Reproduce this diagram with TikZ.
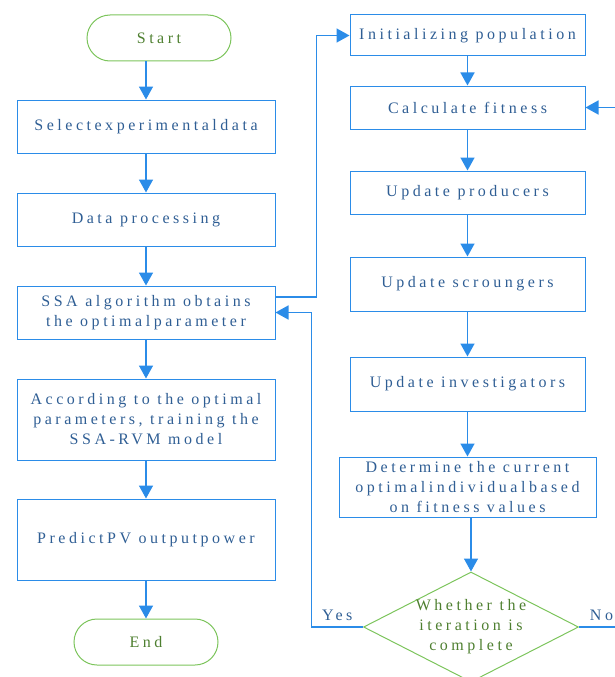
\documentclass[tikz,border=0pt]{standalone}
\usepackage{fontspec}
\setmainfont{Liberation Serif}[LetterSpace=22]
\usetikzlibrary{shapes.geometric, arrows.meta, positioning}
\definecolor{lineblue}{HTML}{2B8CE8}
\definecolor{txtblue}{HTML}{2F5E94}
\definecolor{termgreen}{HTML}{7CC45C}
\definecolor{txtgreen}{HTML}{4E7F30}

\begin{document}
\begin{tikzpicture}[
    x=1pt, y=-1pt,
    proc/.style={
      draw=lineblue,
      line width=1pt,
      align=center,
      text=txtblue,
      inner sep=1pt,
      font=\fontsize{16}{20}\selectfont
    },
    term/.style={
      draw=termgreen,
      line width=1pt,
      rounded corners=23pt,
      minimum width=144pt,
      minimum height=46pt,
      text=txtgreen,
      font=\fontsize{16}{20}\selectfont
    },
    decision/.style={
      draw=termgreen,
      line width=1pt,
      diamond,
      inner sep=0pt,
      minimum width=215pt,
      minimum height=110pt
    },
    flow/.style={
      draw=lineblue,
      line width=1.6pt,
      -{Triangle[length=13pt, width=14pt]}
    },
    lbl/.style={text=txtblue, font=\fontsize{16}{20}\selectfont}
  ]
    \useasboundingbox (0,0) rectangle (615,677);
    \clip (0,0) rectangle (615,677);
    % left column
    \node[term] (start) at (159,38) {Start};
    \node[proc, minimum width=258pt, minimum height=53pt] (sel) at (146,126.5) {Selectexperimentaldata};
    \node[proc, minimum width=258pt, minimum height=53pt] (data) at (146,219.5) {Data processing};
    \node[proc, minimum width=258pt, minimum height=53pt] (ssa) at (146,312.5) {SSA algorithm obtains\\the optimalparameter};
    \node[proc, minimum width=258pt, minimum height=81pt] (acc) at (146,419.5) {According to the optimal\\parameters, training the\\SSA-RVM model};
    \node[proc, minimum width=258pt, minimum height=81pt] (pred) at (146,539.5) {PredictPV outputpower};
    \node[term] (finish) at (146,642) {End};
    % right column
    \node[proc, minimum width=235pt, minimum height=41pt] (init) at (467.5,35.5) {Initializing population};
    \node[proc, minimum width=235pt, minimum height=43pt] (calc) at (467.5,107.5) {Calculate fitness};
    \node[proc, minimum width=235pt, minimum height=43pt] (prod) at (467.5,192.5) {Update producers};
    \node[proc, minimum width=235pt, minimum height=54pt] (scr) at (467.5,284) {Update scroungers};
    \node[proc, minimum width=235pt, minimum height=54pt] (inv) at (467.5,384) {Update investigators};
    \node[proc, minimum width=257pt, minimum height=60pt] (det) at (467.5,487) {Determine the current\\optimalindividualbased\\on fitness values};
    \node[decision] (chk) at (471,627) {};
    \node[proc, draw=none, text=txtgreen] (chktext) at (chk.center) {Whether the\\iteration is\\complete};

    \draw[flow] (sel.north |- start.south) -- (sel.north);
    \draw[flow] (sel) -- (data);
    \draw[flow] (data) -- (ssa);
    \draw[flow] (ssa) -- (acc);
    \draw[flow] (acc) -- (pred);
    \draw[flow] (pred) -- (finish);

    \draw[flow] ([yshift=15.5pt]ssa.east) -- ++(41,0) |- (init.west);
    \draw[flow] (init) -- (calc);
    \draw[flow] (calc) -- (prod);
    \draw[flow] (prod) -- (scr);
    \draw[flow] (scr) -- (inv);
    \draw[flow] (inv) -- (det);
    \draw[flow] (chk.north |- det.south) -- (chk.north);

    \draw[flow] (chk.west) -| node[lbl, pos=0.25, above=2pt] (yes) {Yes} ([xshift=36pt]ssa.east) -- (ssa.east);
    \draw[flow] (chk.east) -- node[lbl, above=2pt] (no) {No} ++(45,0) |- (calc.east);
  \end{tikzpicture}
\end{document}
